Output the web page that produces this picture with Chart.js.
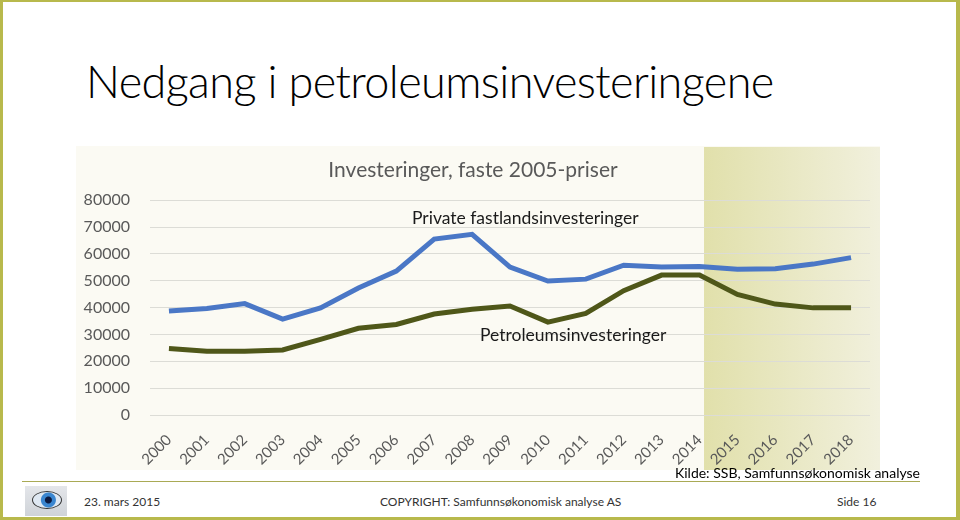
<!DOCTYPE html>
<html>
<head>
<meta charset="utf-8">
<script src="https://cdn.jsdelivr.net/npm/chart.js@4.4.1/dist/chart.umd.min.js"></script>
<style>
  html, body { margin: 0; padding: 0; background: #fff; }
  #slide { position: relative; width: 960px; height: 520px; overflow: hidden; font-family: Lato, "Open Sans", sans-serif; }
  .border { position: absolute; background: #b8b94c; }
  #heading { position: absolute; left: 86px; top: 54px; font-size: 45px; font-weight: 300; color: #000; letter-spacing: -0.6px; white-space: nowrap; }
  #wrap { position: absolute; left: 76px; top: 146px; width: 804px; height: 324px; }
  .note { position: absolute; font-size: 17.5px; color: #1a1a1a; white-space: nowrap; }
  #source { position: absolute; right: 40px; top: 464px; font-size: 14px; color: #000; }
  #rule { position: absolute; left: 22px; top: 481px; width: 898px; height: 1px; background: #a9aa55; }
  .foot { position: absolute; top: 494px; font-size: 12px; color: #333; white-space: nowrap; }
  #logo { position: absolute; left: 25px; top: 486px; width: 42px; height: 30px; background: linear-gradient(#e4e6ea, #cfd3d8); }
  #eye { position: absolute; left: 7px; top: 5px; width: 28px; height: 16px; border-radius: 50%; background: radial-gradient(circle at 55% 50%, #0c1a40 0 3px, #3a86d0 4px 7px, #dfe8f2 8px); border: 1px solid #333; }
</style>
</head>
<body>
<div id="slide">
  <div class="border" style="left:0;top:0;width:3px;height:520px"></div>
  <div class="border" style="right:0;top:0;width:4px;height:520px"></div>
  <div class="border" style="left:0;top:0;width:960px;height:2px"></div>
  <div class="border" style="left:0;bottom:0;width:960px;height:3px"></div>

  <div id="heading">Nedgang i petroleumsinvesteringene</div>

  <div id="wrap"><canvas id="chart" width="804" height="324"></canvas></div>

  <div class="note" style="left:412px;top:207px">Private fastlandsinvesteringer</div>
  <div class="note" style="left:480px;top:324px">Petroleumsinvesteringer</div>

  <div id="source">Kilde: SSB, Samfunnsøkonomisk analyse</div>
  <div id="rule"></div>
  <div id="logo"><div id="eye"></div></div>
  <div class="foot" style="left:84px">23. mars 2015</div>
  <div class="foot" style="left:380px">COPYRIGHT: Samfunnsøkonomisk analyse AS</div>
  <div class="foot" style="left:837px">Side 16</div>
</div>

<script>
// år og serier (mill. kr, faste 2005-priser)
const years = ['2000', '2001', '2002', '2003', '2004', '2005', '2006', '2007', '2008', '2009',
               '2010', '2011', '2012', '2013', '2014', '2015', '2016', '2017', '2018'];
const privateFastland = [38700, 39700, 41500, 35700, 39900, 47300, 53600, 65500, 67300, 55100,
                         49900, 50600, 55800, 55100, 55300, 54300, 54500, 56200, 58600];
const petroleum = [24800, 23700, 23700, 24200, 28200, 32300, 33700, 37600, 39400, 40600,
                   34600, 37800, 46300, 52100, 52100, 44900, 41300, 39900, 39900];
const yTicks = [0, 10000, 20000, 30000, 40000, 50000, 60000, 70000, 80000];
const firstForecast = '2014';

// bakgrunn + skyggelagt prognoseperiode
const background = {
    id: 'background',
    beforeDraw(chart) {
        const ctx = chart.ctx;
        const x = chart.scales.x;
        ctx.save();
        ctx.fillStyle = '#fbfaf3';
        ctx.fillRect(0, 0, chart.width, chart.height);
        const step = x.getPixelForValue(1) - x.getPixelForValue(0);
        const start = x.getPixelForValue(years.indexOf(firstForecast)) + step * 0.12;
        const g = ctx.createLinearGradient(start, 0, chart.width, 0);
        g.addColorStop(0, '#e1e0ab');
        g.addColorStop(1, '#f1f0dd');
        ctx.fillStyle = g;
        ctx.fillRect(start, 1, chart.width - start, chart.height - 1);
        ctx.restore();
    }
};

new Chart(document.getElementById('chart'), {
    type: 'line',
    data: {
        labels: years,
        datasets: [{
            label: 'Private fastlandsinvesteringer',
            data: privateFastland,
            borderColor: '#4a77c6',
            borderWidth: 5,
            pointRadius: 0,
            tension: 0,
        }, {
            label: 'Petroleumsinvesteringer',
            data: petroleum,
            borderColor: '#4f5719',
            borderWidth: 5,
            pointRadius: 0,
            tension: 0,
        }]
    },
    options: {
        responsive: false,
        animation: false,
        layout: { padding: { right: 10 } },
        plugins: {
            legend: { display: false },
            tooltip: { enabled: false },
            title: {
                display: true,
                text: 'Investeringer, faste 2005-priser',
                color: '#595959',
                font: { family: 'Lato', size: 21, weight: 'normal' },
                padding: { top: 12, bottom: 17 },
            },
        },
        scales: {
            x: {
                offset: true,
                grid: { display: false },
                border: { display: false },
                ticks: {
                    color: '#595959',
                    font: { family: 'Lato', size: 15 },
                    minRotation: 45,
                    maxRotation: 45,
                    padding: 8,
                },
                afterFit(scale) { scale.height = 55; },
            },
            y: {
                min: 0,
                max: 80000,
                afterBuildTicks(scale) { scale.ticks = yTicks.map(v => ({ value: v })); },
                grid: { color: '#dcdcd6', drawTicks: false },
                border: { display: false },
                ticks: {
                    color: '#595959',
                    font: { family: 'Lato', size: 16 },
                    padding: 20,
                    callback: v => String(v),
                },
                afterFit(scale) { scale.width = 74; },
            },
        },
    },
    plugins: [background],
});
</script>
</body>
</html>
